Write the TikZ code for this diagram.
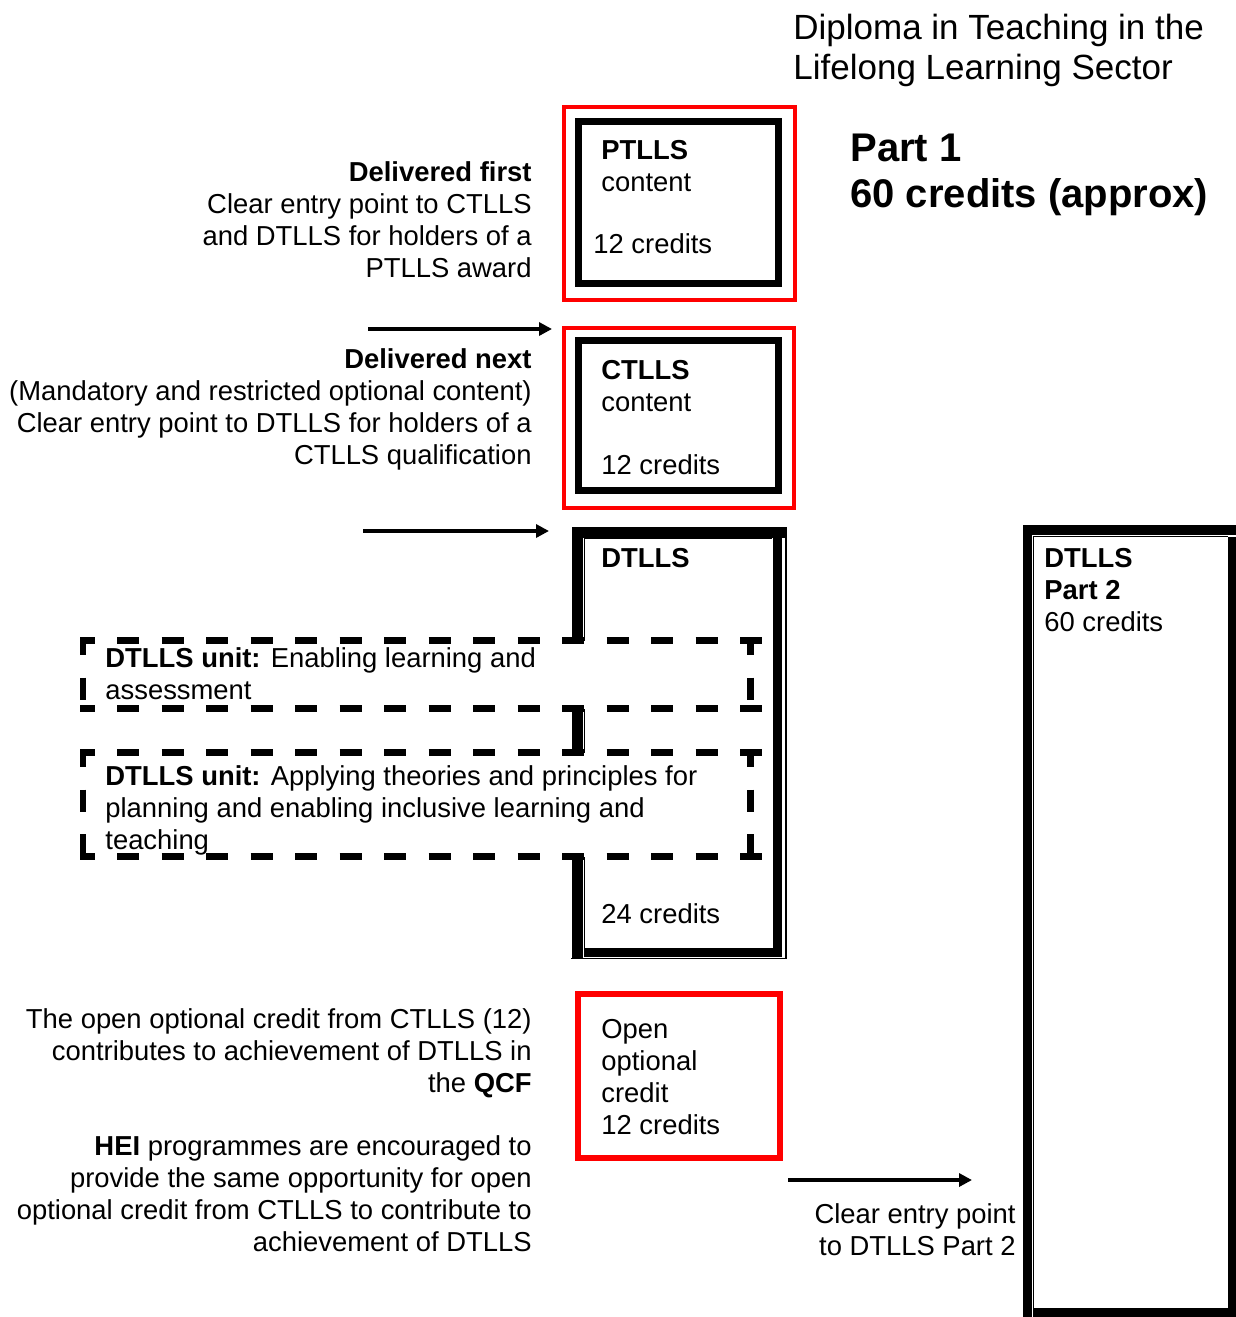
\documentclass[tikz,border=0pt]{standalone}
\usepackage{fontspec}
\setmainfont{Liberation Sans}
\usepackage{tikz}
\usetikzlibrary{arrows.meta}
\newcommand{\txtsize}{\fontsize{13.7pt}{16pt}\selectfont}
\newcommand{\ttlsize}{\fontsize{17.5pt}{20pt}\selectfont}
\newcommand{\hdsize}{\fontsize{20pt}{23pt}\selectfont\bfseries}
\tikzset{
  lefttxt/.style={font=\txtsize, align=right, anchor=base east, inner sep=0pt},
  boxtxt/.style={font=\txtsize, align=left, anchor=base west, inner sep=0pt},
  redframe/.style={draw=red, line width=#1},
  redframe/.default=2pt,
  blkframe/.style={draw=black, line width=3.5pt},
  fatline/.style={line width=#1},
  fatline/.default=4.75pt,
  thinline/.style={line width=0.75pt},
  unitline/.style={line width=3.25pt, dash pattern=on 11pt off 11.25pt, dash phase=3.75pt},
  arrflow/.style={-{Triangle[length=6.5pt, width=6.5pt]}, line width=2.25pt},
}
\begin{document}
\begin{tikzpicture}[x=0.5pt, y=-0.5pt, line join=miter]
\useasboundingbox (0,0) rectangle (1236,1317);

% headings (multi-line nodes sit on their last line)
\node[font=\ttlsize, align=left, anchor=base west, inner sep=0pt] (title) at (793,79) {Diploma in Teaching in the\\Lifelong Learning Sector};
\node[font=\hdsize, align=left, anchor=base west, inner sep=0pt] (part1) at (850,207) {Part 1\\60 credits (approx)};

% PTLLS
\draw[redframe] (563.5,107) rectangle (794.5,300);
\draw[blkframe] (578,121.5) rectangle (778.5,283.5);
\node[boxtxt] (ptlls) at (601,191) {\textbf{PTLLS}\\content};
\node[boxtxt] (ptllscr) at (593,253) {12 credits};
\node[lefttxt] (first) at (532,277) {\textbf{Delivered first}\\Clear entry point to CTLLS\\and DTLLS for holders of a\\PTLLS award};

% CTLLS
\draw[redframe] (564,328) rectangle (794,508);
\draw[blkframe] (578.5,340.5) rectangle (778.5,490.5);
\node[boxtxt] (ctlls) at (601,411) {\textbf{CTLLS}\\content};
\node[boxtxt] (ctllscr) at (601,474) {12 credits};
\node[lefttxt] (next) at (532,464) {\textbf{Delivered next}\\(Mandatory and restricted optional content)\\Clear entry point to DTLLS for holders of a\\CTLLS qualification};

\coordinate (a1s) at (368,329);
\coordinate (a1e) at (552,329);
\draw[arrflow] (a1s) -- (a1e);
\coordinate (a2s) at (363,531);
\coordinate (a2e) at (549,531);
\draw[arrflow] (a2s) -- (a2e);

% DTLLS part 1 frame
\draw[fatline=5.5pt] (577,958) -- (577,532) -- (786,532);
\draw[thinline] (786,527) -- (786,958.5) -- (571,958.5);
\draw[thinline] (584.5,952) -- (584.5,538.5) -- (772,538.5);
\draw[fatline=4.5pt] (777.5,538) -- (777.5,952) -- (584,952);
\node[boxtxt] (dtlls) at (601,567) {\textbf{DTLLS}};
\node[boxtxt] (dtllscr) at (601,923) {24 credits};

% units
\foreach \ya/\yb in {640.5/708.5, 752.5/856.5}{
  \fill[white] (80,\ya) rectangle (763,\yb);
  \draw[unitline] (80,\ya) -- (763,\ya);
  \draw[unitline] (80,\yb) -- (763,\yb);
  \draw[unitline] (83,\ya) -- (83,\yb);
  \draw[unitline] (750.5,\ya) -- (750.5,\yb);
}
\node[boxtxt] (unita) at (105,699) {\textbf{DTLLS unit:} Enabling learning and\\assessment};
\node[boxtxt] (unitb) at (105,849) {\textbf{DTLLS unit:} Applying theories and principles for\\planning and enabling inclusive learning and\\teaching};

% open optional credit
\draw[redframe=3pt] (578,994) rectangle (780,1158);
\node[boxtxt] (open) at (601,1134) {Open\\optional\\credit\\12 credits};
\node[lefttxt] (qcf) at (532,1092) {The open optional credit from CTLLS (12)\\contributes to achievement of DTLLS in\\the \textbf{QCF}};
\node[lefttxt] (hei) at (532,1251) {\textbf{HEI} programmes are encouraged to\\provide the same opportunity for open\\optional credit from CTLLS to contribute to\\achievement of DTLLS};

% DTLLS part 2
\draw[fatline] (1027.5,1317) -- (1027.5,530) -- (1236,530);
\draw[thinline] (1033.5,1308) -- (1033.5,536.5) -- (1228,536.5);
\draw[fatline=4.5pt] (1232,537) -- (1232,1312.5) -- (1033,1312.5);
\node[boxtxt] (part2) at (1044,631) {\textbf{DTLLS}\\\textbf{Part 2}\\60 credits};

\coordinate (a3s) at (788,1180);
\coordinate (a3e) at (972,1180);
\draw[arrflow] (a3s) -- (a3e);
\node[lefttxt] (entry) at (1016,1255) {Clear entry point\\to DTLLS Part 2};
\end{tikzpicture}
\end{document}
